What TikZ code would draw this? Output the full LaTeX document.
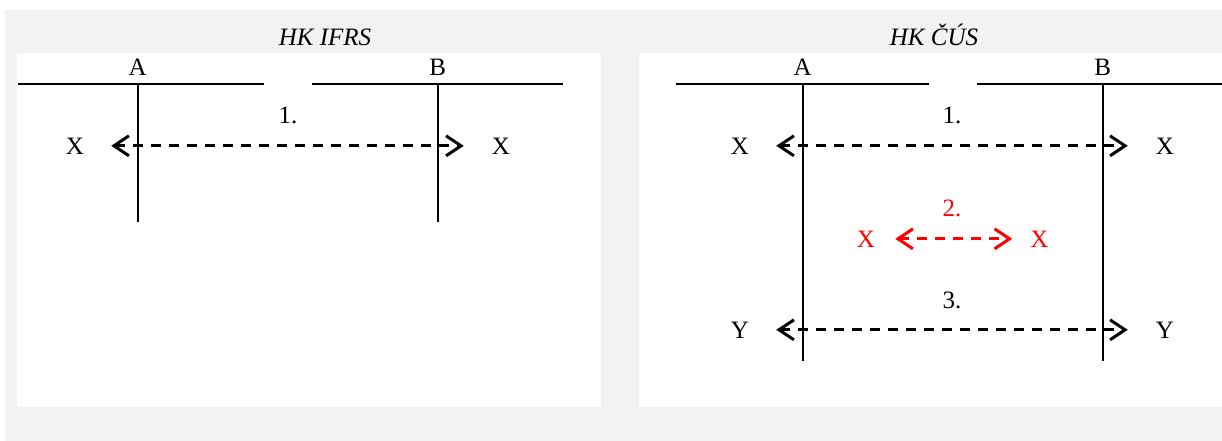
\documentclass[tikz,border=0pt]{standalone}
\usepackage{fontspec}
\setmainfont{Liberation Serif}
\usetikzlibrary{arrows.meta}
\definecolor{panelgray}{HTML}{F2F2F2}
\begin{document}
\begin{tikzpicture}[x=1pt,y=-1pt,
  every node/.style={font=\fontsize{25}{29}\selectfont,inner sep=0pt,anchor=base},
  acct/.style={line width=2.2pt},
  flow/.style={line width=2.8pt,dash pattern=on 10pt off 8pt,
    {Straight Barb[length=15pt,width=20pt,line width=3pt]}-{Straight Barb[length=15pt,width=20pt,line width=3pt]},
    shorten <=27pt,shorten >=28pt},
  redflow/.style={flow,red,shorten <=20pt,shorten >=18pt}]
\useasboundingbox (0,0) rectangle (1222,441);
% background and panels
\fill[white] (0,0) rectangle (1222,441);
\fill[panelgray] (5,10) rectangle (1222,441);
\fill[white] (17,53) rectangle (601,407);
\fill[white] (639,53) rectangle (1222,407);
\node (tl) at (325,46) {\itshape HK IFRS};
\node (tr) at (934,46) {\itshape HK ČÚS};
% left: IFRS accounts
\begin{scope}
\draw[acct] (17.8,84) -- (264,84);
\draw[acct] (312,84) -- (563,84);
\draw[acct] (137.6,84) -- (137.6,222);
\draw[acct] (437.7,84) -- (437.7,222);
\node (la) at (137.6,76) {A};
\node (lb) at (437.7,76) {B};
\node (l1) at (288,124) {1.};
\node (lx1) at (75,154) {X};
\node (lx2) at (501,154) {X};
\draw[flow] (lx1) -- (lx2);
\end{scope}
% right: CUS accounts
\begin{scope}[xshift=665]
\draw[acct] (11,84) -- (264,84);
\draw[acct] (312,84) -- (557,84);
\draw[acct] (137.6,84) -- (137.6,361);
\draw[acct] (437.7,84) -- (437.7,361);
\node (ra) at (137.6,76) {A};
\node (rb) at (437.7,76) {B};
\node (r1) at (287,124) {1.};
\node (rx1) at (75,154) {X};
\node (rx2) at (500,154) {X};
\draw[flow] (rx1) -- (rx2);
\node[red] (r2) at (287,216) {2.};
\node[red] (rx3) at (201,247) {X};
\node[red] (rx4) at (374.5,247) {X};
\draw[redflow] (rx3) -- (rx4);
\node (r3) at (287,308) {3.};
\node (ry1) at (75,338) {Y};
\node (ry2) at (500,338) {Y};
\draw[flow] (ry1) -- (ry2);
\end{scope}
\end{tikzpicture}
\end{document}
